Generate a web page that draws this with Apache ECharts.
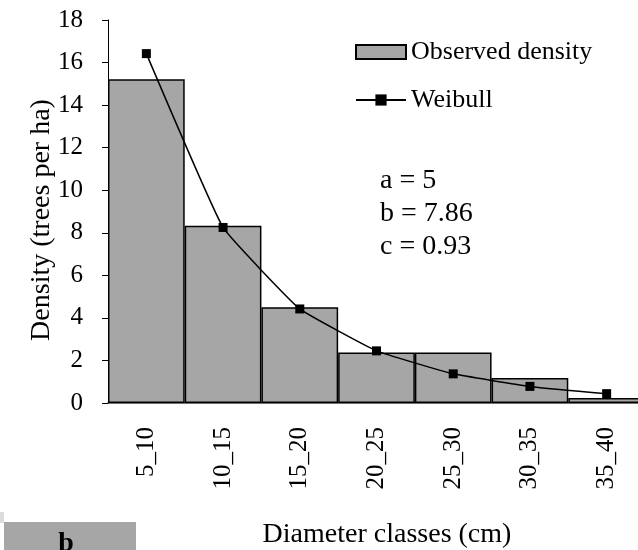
<!DOCTYPE html>
<html>
<head>
<meta charset="utf-8">
<script src="https://cdn.jsdelivr.net/npm/echarts@6/dist/echarts.min.js"></script>
<style>
html,body{margin:0;padding:0;background:#fff;overflow:hidden;}
#chart{width:645px;height:550px;}
</style>
</head>
<body>
<div id="chart"></div>
<script>
var categories = ['5_10', '10_15', '15_20', '20_25', '25_30', '30_35', '35_40'];
var observed = [15.22, 8.33, 4.5, 2.37, 2.37, 1.17, 0.24];
var weibull = [16.42, 8.25, 4.42, 2.45, 1.37, 0.78, 0.44];
var yTicks = { min: 0, max: 18, interval: 2 };
var params = ['a = 5', 'b = 7.86', 'c = 0.93'];
var xTitle = 'Diameter classes (cm)';
var yTitle = 'Density (trees per ha)';

var FONT = "'Liberation Serif', 'Times New Roman', serif";
var chart = echarts.init(document.getElementById('chart'));
chart.setOption({
  animation: false,
  backgroundColor: '#ffffff',
  grid: { left: 108, right: 0, top: 20, bottom: 147, containLabel: false },
  legend: {
    data: [{ name: 'Observed density', icon: 'rect' }, { name: 'Weibull' }],
    orient: 'vertical',
    left: 350, top: 34,
    itemWidth: 50, itemHeight: 14, itemGap: 22,
    textStyle: { fontFamily: FONT, fontSize: 26, color: '#000' }
  },
  xAxis: {
    type: 'category',
    data: categories,
    axisLine: { lineStyle: { color: '#404040', width: 1.5 } },
    axisTick: { show: false },
    axisLabel: { rotate: 90, margin: 24, fontFamily: FONT, fontSize: 25, color: '#000' }
  },
  yAxis: {
    type: 'value',
    min: yTicks.min, max: yTicks.max, interval: yTicks.interval,
    splitLine: { show: false },
    axisLine: { show: true, lineStyle: { color: '#000', width: 1 } },
    axisTick: { show: true, inside: false, length: 6, lineStyle: { color: '#000' } },
    axisLabel: { margin: 25, fontFamily: FONT, fontSize: 25, color: '#000' }
  },
  series: [
    {
      name: 'Observed density',
      type: 'bar',
      data: observed,
      barCategoryGap: '0%',
      itemStyle: { color: '#a6a6a6', borderColor: '#000', borderWidth: 1.5 }
    },
    {
      name: 'Weibull',
      type: 'line',
      data: weibull,
      smooth: 0.1,
      symbol: 'rect',
      symbolSize: 9,
      z: 5,
      lineStyle: { color: '#000', width: 1.5 },
      itemStyle: { color: '#000' }
    }
  ],
  graphic: [
    {
      type: 'text', left: 380, top: 164,
      style: { text: params.join('\n'), fontFamily: FONT, fontSize: 28, lineHeight: 33, fill: '#000' }
    },
    {
      type: 'text', x: 42, y: 220, rotation: Math.PI / 2,
      style: { text: yTitle, fontFamily: FONT, fontSize: 28, fill: '#000', align: 'center', verticalAlign: 'middle' }
    },
    {
      type: 'text', x: 387, y: 535,
      style: { text: xTitle, fontFamily: FONT, fontSize: 28, fill: '#000', align: 'center', verticalAlign: 'middle' }
    },
    { type: 'rect', shape: { x: 0, y: 512, width: 4, height: 11 }, style: { fill: '#dcdcdc' } },
    { type: 'rect', shape: { x: 4, y: 522, width: 132, height: 28 }, style: { fill: '#a6a6a6' } },
    {
      type: 'text', x: 66, y: 530,
      style: { text: 'b', fontFamily: FONT, fontSize: 28, fontWeight: 'bold', fill: '#000', align: 'center', verticalAlign: 'top' }
    }
  ]
});
</script>
</body>
</html>
